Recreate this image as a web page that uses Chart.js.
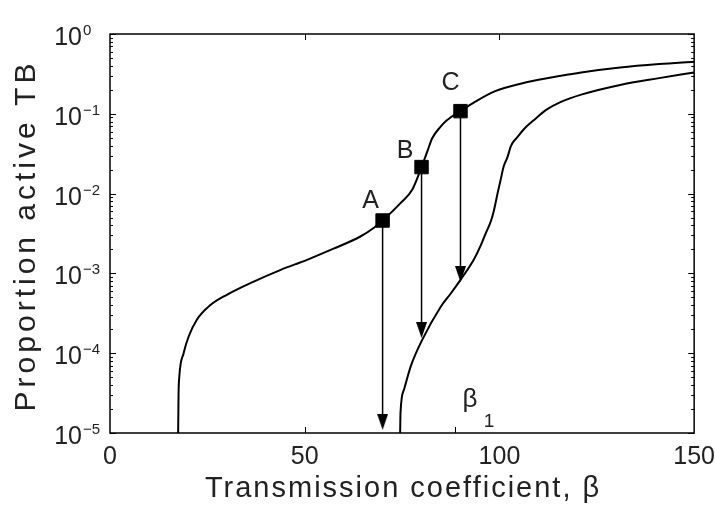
<!DOCTYPE html>
<html>
<head>
<meta charset="utf-8">
<script src="https://cdn.jsdelivr.net/npm/chart.js@4/dist/chart.umd.min.js"></script>
<style>
  body { margin: 0; background: #fff; }
  #tb { display: block; }
</style>
</head>
<body>
<canvas id="tb" width="716" height="506"></canvas>
<script>
// upper branch (stable endemic state)
var betaUpper = [17.5, 17.6, 17.8, 18.9, 20.2, 22.3, 25.7, 30, 36.9, 43.7, 50.6, 57.4, 64.3, 67.7, 70,
                 74.6, 77.6, 80, 81.6, 82.7, 84.9, 86.5, 90, 93.4, 98.6, 107.2, 115.8, 121, 131, 141, 150];
var propUpper = [1e-5, 3e-5, 5.1e-5, 1.0e-4, 1.62e-4, 2.63e-4, 3.98e-4, 5.4e-4, 7.9e-4, 1.1e-3, 1.48e-3, 2.04e-3, 2.9e-3, 3.7e-3, 4.6e-3,
                 7.6e-3, 1.12e-2, 2.15e-2, 3.5e-2, 4.9e-2, 6.9e-2, 8.3e-2, 0.108, 0.138, 0.19, 0.25, 0.30, 0.33, 0.38, 0.42, 0.45];

// lower branch
var betaLower = [74.5, 74.6, 75.5, 77.2, 80.2, 84.9, 87.5, 90, 93.4, 95.2, 96.5, 97.8, 98.6, 99.6, 100.3, 101.1, 102, 103, 104.6,
                 106.5, 108.8, 112, 115.8, 121, 131, 141, 150];
var propLower = [1e-5, 1.8e-5, 3.5e-5, 6.8e-5, 1.48e-4, 3.8e-4, 5.6e-4, 8.3e-4, 1.48e-3, 2.24e-3, 3.2e-3, 4.5e-3, 6.2e-3, 1.05e-2, 1.48e-2, 2.2e-2, 2.8e-2, 4.0e-2, 5.1e-2,
                 6.6e-2, 8.3e-2, 0.112, 0.141, 0.174, 0.23, 0.28, 0.33];

// marked points and where their arrows end
var pointNames = ['A', 'B', 'C'];
var pointBeta = [70, 80, 90];
var pointProp = [4.6e-3, 2.15e-2, 0.108];
var arrowEnd = [1.38e-5, 1.95e-4, 9.8e-4];

var betaOne = 88.5;
var xTickValues = [0, 50, 100, 150];
var yExponents = [0, -1, -2, -3, -4, -5];
var xTitle = 'Transmission coefficient, \u03b2';
var yTitle = 'Proportion active TB';

function xy(xs, ys) {
  var out = [];
  for (var i = 0; i < xs.length; i++) out.push({x: xs[i], y: ys[i]});
  return out;
}

// arrow head: narrow triangle pointing down
var head = document.createElement('canvas');
head.width = 11; head.height = 16;
var hc = head.getContext('2d');
hc.fillStyle = '#000';
hc.beginPath(); hc.moveTo(0, 0); hc.lineTo(11, 0); hc.lineTo(5.5, 16); hc.closePath(); hc.fill();

var datasets = [{
  label: 'points',
  data: xy(pointBeta, pointProp),
  showLine: false,
  pointStyle: 'rect',
  pointRadius: 9.5,
  backgroundColor: '#000',
  borderColor: '#000',
  order: 0
}];
for (var i = 0; i < pointBeta.length; i++) {
  datasets.push({
    label: 'arrow ' + pointNames[i],
    data: [{x: pointBeta[i], y: pointProp[i]}, {x: pointBeta[i], y: arrowEnd[i]}],
    borderColor: '#000',
    borderWidth: 1.5,
    pointStyle: [false, head],
    pointRadius: [0, 6],
    order: 1
  });
}
datasets.push({
  label: 'upper', data: xy(betaUpper, propUpper), borderColor: '#000', borderWidth: 2,
  pointRadius: 0, cubicInterpolationMode: 'monotone', order: 2
});
datasets.push({
  label: 'lower', data: xy(betaLower, propLower), borderColor: '#000', borderWidth: 2,
  pointRadius: 0, cubicInterpolationMode: 'monotone', order: 2
});

var txt = '#222';
var fam = '"Liberation Sans", Arial, sans-serif';

var decor = {
  id: 'decor',
  afterDraw: function(chart) {
    var c = chart.ctx, a = chart.chartArea;
    var xs = chart.scales.x, ys = chart.scales.y;
    c.save();
    c.strokeStyle = '#000';
    c.lineWidth = 1.5;
    c.strokeRect(a.left, a.top, a.right - a.left, a.bottom - a.top);

    // inside ticks on the log axis, left and right
    c.lineWidth = 1;
    c.beginPath();
    for (var e = -5; e <= 0; e++) {
      for (var k = 1; k <= 9; k++) {
        var v = k * Math.pow(10, e);
        if (v > 1) break;
        var py = Math.round(ys.getPixelForValue(v)) + 0.5;
        var len = k === 1 ? 6 : 3;
        c.moveTo(a.left, py); c.lineTo(a.left + len, py);
        c.moveTo(a.right, py); c.lineTo(a.right - len, py);
      }
    }
    // x ticks: top at 50 and 100, bottom at 50 and beta_1
    [50, 100].forEach(function(v) {
      var px = Math.round(xs.getPixelForValue(v)) + 0.5;
      c.moveTo(px, a.top); c.lineTo(px, a.top + 6);
    });
    [50, betaOne].forEach(function(v) {
      var px = Math.round(xs.getPixelForValue(v)) + 0.5;
      c.moveTo(px, a.bottom); c.lineTo(px, a.bottom - 6);
    });
    c.stroke();

    // y tick labels 10^n
    c.fillStyle = txt;
    c.textBaseline = 'alphabetic';
    yExponents.forEach(function(n) {
      var py = ys.getPixelForValue(Math.pow(10, n));
      c.font = '25px ' + fam;
      c.textAlign = 'right';
      c.fillText('10', 82, py + 11);
      c.font = '15px ' + fam;
      c.textAlign = 'left';
      c.fillText(n === 0 ? '0' : '\u2212' + (-n), 83, py + 1);
    });

    // point labels A, B, C
    var offs = [[-12, -19], [-16.5, -16], [-10, -28.5]];
    c.font = '25px ' + fam;
    c.textAlign = 'center';
    c.textBaseline = 'middle';
    for (var i = 0; i < pointNames.length; i++) {
      var px = xs.getPixelForValue(pointBeta[i]), py2 = ys.getPixelForValue(pointProp[i]);
      c.fillText(pointNames[i], px + offs[i][0], py2 + offs[i][1]);
    }

    // beta_1 label
    c.textAlign = 'left';
    c.textBaseline = 'alphabetic';
    c.font = '26px ' + fam;
    c.fillText('\u03b2', xs.getPixelForValue(betaOne + 2), ys.getPixelForValue(2.1e-5));
    c.font = '19px ' + fam;
    c.fillText('1', xs.getPixelForValue(betaOne + 7.5), ys.getPixelForValue(1.2e-5));

    // axis titles, set a little wide like the original
    c.textAlign = 'center';
    c.font = '29px ' + fam;
    c.letterSpacing = '2px';
    c.fillText(xTitle, (a.left + a.right) / 2 + 1, 497);
    c.save();
    c.translate(35, (a.top + a.bottom) / 2 + 4);
    c.rotate(-Math.PI / 2);
    c.font = '30px ' + fam;
    c.letterSpacing = '4px';
    c.fillText(yTitle, 2, 0);
    c.restore();
    c.restore();
  }
};

new Chart(document.getElementById('tb'), {
  type: 'line',
  data: { datasets: datasets },
  options: {
    responsive: false,
    animation: false,
    events: [],
    layout: { padding: { left: 0, right: 15, top: 34, bottom: 0 } },
    plugins: { legend: { display: false }, tooltip: { enabled: false } },
    scales: {
      x: {
        type: 'linear', min: 0, max: 150,
        afterBuildTicks: function(s) { s.ticks = xTickValues.map(function(v) { return {value: v}; }); },
        ticks: { color: txt, font: { size: 25, family: fam }, padding: 1, maxRotation: 0 },
        grid: { display: false },
        border: { display: false },
        afterFit: function(s) { s.height = 73; }
      },
      y: {
        type: 'logarithmic', min: 1e-5, max: 1,
        ticks: { display: false },
        grid: { display: false },
        border: { display: false },
        afterFit: function(s) { s.width = 110; }
      }
    }
  },
  plugins: [decor]
});
</script>
</body>
</html>
